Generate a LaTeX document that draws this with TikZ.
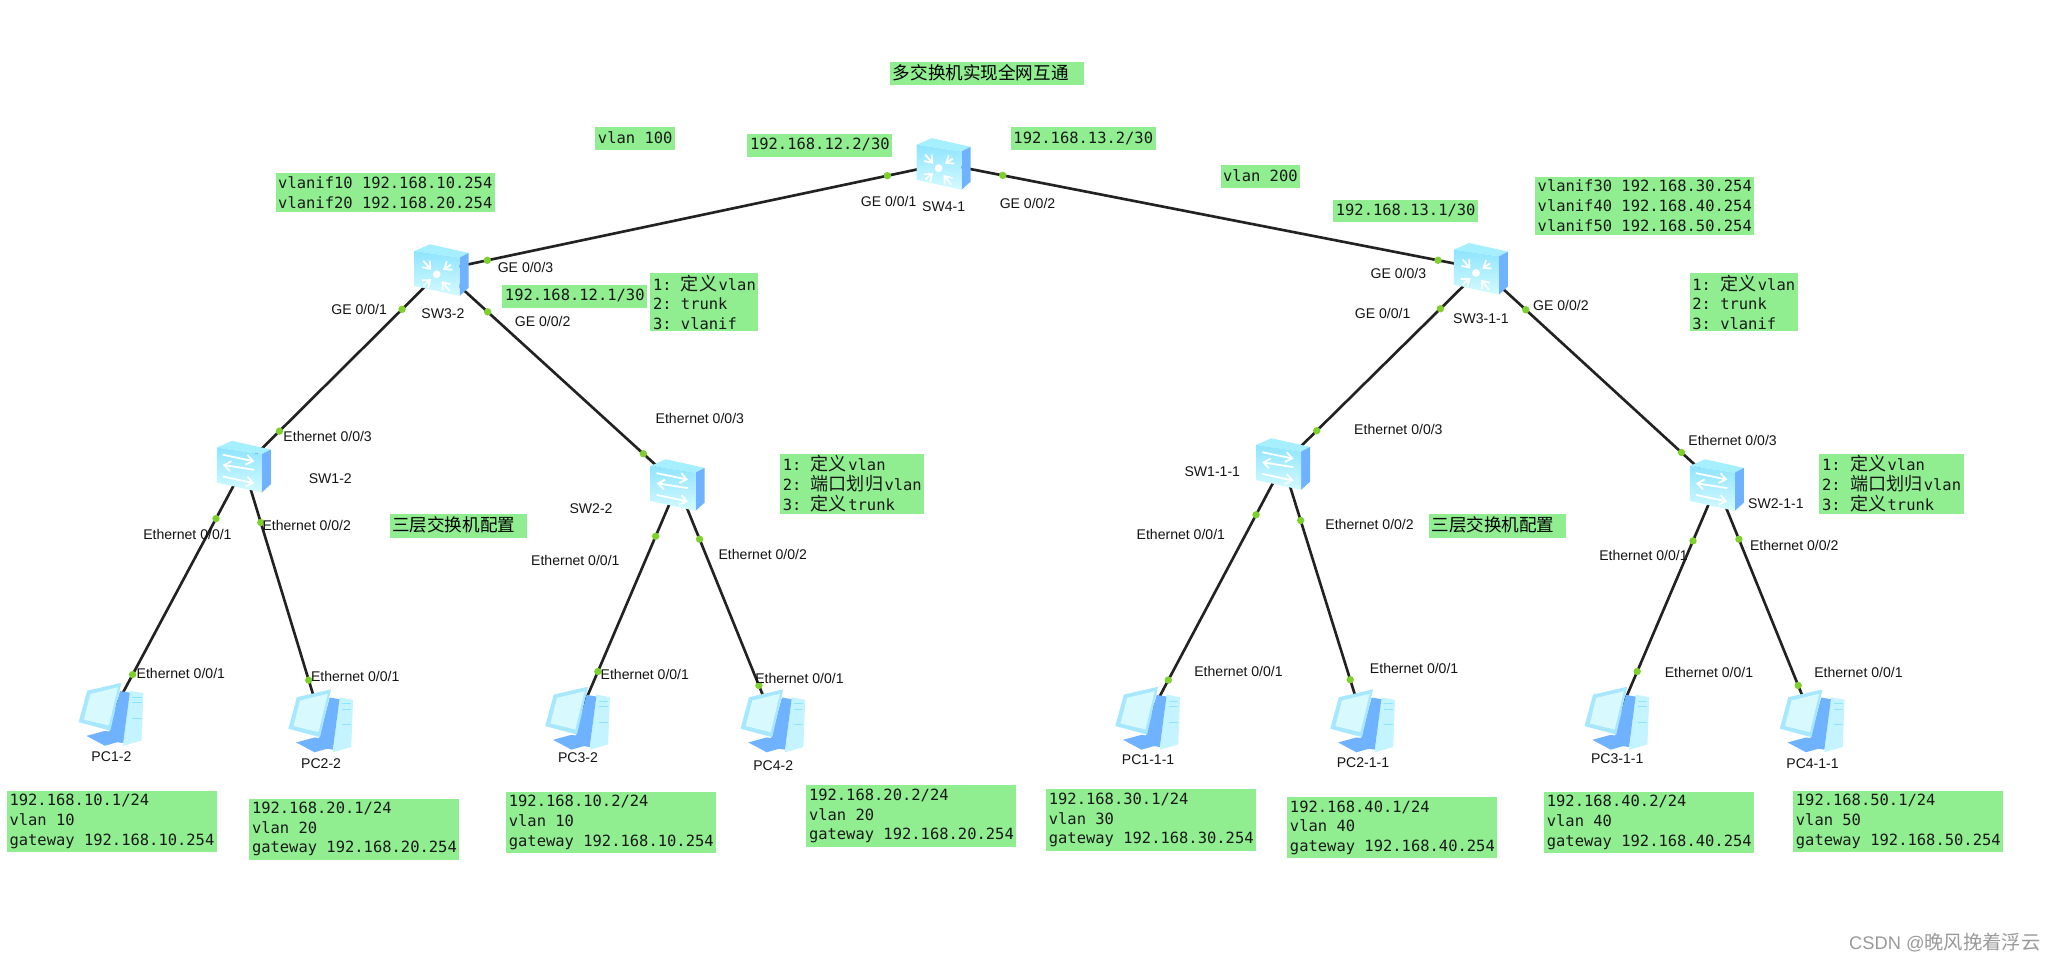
\documentclass[tikz,border=0pt]{standalone}
\usepackage{fontspec}
\setmainfont{Liberation Sans}
\setmonofont{DejaVu Sans Mono}
\newfontfamily\cjk{Noto Sans CJK SC}
\usetikzlibrary{arrows.meta}
\newcommand{\GEport}[1]{GE 0/0/#1}
\newcommand{\ETHport}[1]{Ethernet 0/0/#1}
\newcommand{\hanzi}[1]{{\cjk\fontsize{10.3}{11.2}\selectfont #1}\kern0.8pt}
\newcommand{\gwnote}[3]{#1/24\\vlan #2\\gateway 192.168.#2.254}
\definecolor{notegreen}{HTML}{90EE90}
\definecolor{portgreen}{HTML}{7FCF2F}
\definecolor{wirecol}{HTML}{222222}
\definecolor{devside}{HTML}{6FB2FF}
\definecolor{devtop}{HTML}{A6EFFF}
\definecolor{devhigh}{HTML}{8FE4FF}
\definecolor{devlow}{HTML}{D4FBFF}
\definecolor{pcframe}{HTML}{A8E8FF}
\definecolor{pcscreen}{HTML}{D8FAFF}
\definecolor{pctower}{HTML}{C4F4FF}
\definecolor{markgray}{HTML}{9A9A9A}

\begin{document}
\begin{tikzpicture}[
    x=0.2621mm, y=-0.2621mm,
    link/.style={draw=wirecol, line width=1.5pt},
    port/.style={circle, fill=portgreen, minimum size=4.2pt, inner sep=0pt},
    dev/.style={minimum size=8mm, inner sep=0pt},
    tag/.style={font=\fontsize{8}{10}\selectfont, text=black!92, inner sep=0pt},
    note/.style={anchor=north west, fill=notegreen, align=left, inner xsep=1.5pt, inner ysep=2pt,
      text=black!90, font=\ttfamily\fontsize{8.8}{11.2}\selectfont},
    oneline/.style={note, inner ysep=1pt, text height=8pt, text depth=3pt},
    steps/.style={note, inner ysep=1pt},
    bigtxt/.style={anchor=north west, fill=notegreen, inner xsep=1.5pt, inner ysep=1.5pt,
      text height=8.6pt, text depth=1.8pt, font=\cjk\fontsize{10}{12}\selectfont},
    glyph/.style={draw=white, line width=1pt, -{Straight Barb[length=1.3mm,width=2mm]}},
    swbody/.pic={
      \fill[devtop] (-20.6,-14.5) -- (-9,-19.6) -- (20.6,-13) -- (13.7,-9.4) -- cycle;
      \fill[devside] (13.7,-9.4) -- (20.6,-13) -- (20.6,13.5) -- (13.7,19.8) -- cycle;
      \shade[top color=devhigh, bottom color=devlow] (-20.6,-14.5) -- (13.7,-9.4) -- (13.7,19.8) -- (-20.6,12.2) -- cycle;
    },
    l3sw/.pic={
      \pic {swbody};
      \draw[glyph] (-14,-7) -- (-8,0);
      \draw[glyph] (7,-4) -- (1,0);
      \draw[glyph] (-14,12) -- (-8,7);
      \draw[glyph] (6,16) -- (0,8.5);
      \fill[white] (-3.8,3.3) circle (3);
    },
    l2sw/.pic={
      \pic {swbody};
      \draw[glyph] (-16,-9) -- (8,-4);
      \draw[glyph] (8,2.5) -- (-16,-1.3);
      \draw[glyph] (-16,7.6) -- (8,12.7);
    },
    pcbox/.pic={
      \fill[pctower] (14,-18) -- (24.4,-16) -- (23,20) -- (9,24) -- cycle;
      \fill[devside] (6.6,-17.8) -- (14,-16.5) -- (9,22) -- (-3.5,20) -- cycle;
      \fill[devside] (-19,16.5) -- (-5,12.7) -- (4,14) -- (9,20) -- (-5,24) -- cycle;
      \fill[pcframe] (-25,6) -- (-18.5,-18) -- (7.6,-24) -- (-0.8,12.5) -- cycle;
      \fill[pcscreen] (-21,4) -- (-16,-15.5) -- (5,-20.6) -- (-2,8.6) -- cycle;
      \foreach \ybar in {-13,-9,3} { \draw[devhigh, line width=0.5pt] (16,\ybar) -- (23,\ybar); }
    },
  ]

  \useasboundingbox[fill=white] (0,0) rectangle (1568,733.3);

  %% the devices: invisible boxes first, icons go on top of the links later
  \foreach \n/\x/\y in {SWfour/720/125, SWthreeA/337/206, SWthreeB/1130/205, SWoneA/186/356,
      SWtwoA/517/370, SWoneB/979/354, SWtwoB/1310/370} {
    \node[dev] (\n) at (\x,\y) {};
  }
  \foreach \n/\x/\y in {PConeA/85/545, PCtwoA/245/550, PCthreeA/441/548, PCfourA/590/550,
      PConeB/876/548, PCtwoB/1040/550, PCthreeB/1234/548, PCfourB/1383/550} {
    \node[dev] (\n) at (\x,\y) {};
  }

  %% links, with a port dot near each end
  \foreach \a/\b/\pa/\pb in {SWfour/SWthreeA/.112/.909, SWfour/SWthreeB/.11/.92,
      SWthreeA/SWoneA/.2/.82, SWthreeA/SWtwoA/.195/.855,
      SWthreeB/SWoneB/.205/.83, SWthreeB/SWtwoB/.19/.85,
      SWoneA/PConeA/.21/.84, SWoneA/PCtwoA/.22/.84,
      SWtwoA/PCthreeA/.22/.8, SWtwoA/PCfourA/.23/.85,
      SWoneB/PConeB/.2/.85, SWoneB/PCtwoB/.22/.84,
      SWtwoB/PCthreeB/.24/.8, SWtwoB/PCfourB/.23/.85} {
    \draw[link] (\a.center) -- node[port, pos=\pa] (\a\b s) {} node[port, pos=\pb] (\a\b e) {} (\b.center);
  }

  %% icons
  \foreach \n in {SWfour, SWthreeA, SWthreeB} { \pic at (\n) {l3sw}; }
  \foreach \n in {SWoneA, SWtwoA, SWoneB, SWtwoB} { \pic at (\n) {l2sw}; }
  \foreach \n in {PConeA, PCtwoA, PCthreeA, PCfourA, PConeB, PCtwoB, PCthreeB, PCfourB} { \pic at (\n) {pcbox}; }

  %% device names
  \foreach \x/\y/\t [count=\i] in {720/158/SW4-1, 338/239/SW3-2, 1130/243/SW3-1-1, 252/365/SW1-2,
      451/388/SW2-2, 925/360/SW1-1-1, 1355/384/SW2-1-1, 85/577/PC1-2, 245/583/PC2-2, 441/578/PC3-2,
      590/584/PC4-2, 876/580/PC1-1-1, 1040/582/PC2-1-1, 1234/579/PC3-1-1, 1383/583/PC4-1-1} {
    \node[tag] (name\i) at (\x,\y) {\t};
  }

  %% port names
  \foreach \x/\y/\t [count=\i] in {678/154/\GEport{1}, 784/155/\GEport{2}, 401/204/\GEport{3},
      274/236/\GEport{1}, 414/245/\GEport{2}, 1067/209/\GEport{3}, 1055/239/\GEport{1}, 1191/233/\GEport{2},
      250/333/\ETHport{3}, 143/408/\ETHport{1}, 234/401/\ETHport{2},
      534/319/\ETHport{3}, 439/428/\ETHport{1}, 582/423/\ETHport{2},
      1067/328/\ETHport{3}, 901/408/\ETHport{1}, 1045/400/\ETHport{2},
      1322/336/\ETHport{3}, 1254/424/\ETHport{1}, 1369/416/\ETHport{2},
      138/514/\ETHport{1}, 271/516/\ETHport{1}, 492/515/\ETHport{1}, 610/518/\ETHport{1},
      945/512/\ETHport{1}, 1079/510/\ETHport{1}, 1304/513/\ETHport{1}, 1418/513/\ETHport{1}} {
    \node[tag] (portname\i) at (\x,\y) {\t};
  }

  %% green notes
  \node[bigtxt] (title) at (679,47) {多交换机实现全网互通\hspace*{7pt}};
  \node[bigtxt] (layerA) at (297,392) {三层交换机配置\hspace*{5pt}};
  \node[bigtxt] (layerB) at (1090,392) {三层交换机配置\hspace*{5pt}};

  \node[oneline] (vlanA) at (454,97) {vlan 100};
  \node[oneline] (vlanB) at (931,126) {vlan 200};
  \node[oneline] (ipA) at (570,102) {192.168.12.2/30};
  \node[oneline] (ipB) at (771,97) {192.168.13.2/30};
  \node[oneline] (ipC) at (383,217) {192.168.12.1/30};
  \node[oneline] (ipD) at (1017,152) {192.168.13.1/30};
  \node[note] (ifA) at (210,132) {vlanif10 192.168.10.254\\vlanif20 192.168.20.254};
  \node[note] (ifB) at (1171,134.5) {vlanif30 192.168.30.254\\vlanif40 192.168.40.254\\vlanif50 192.168.50.254};

  \node[steps] (stepsA) at (496,208) {1: \hanzi{定义}vlan\\2: trunk\\3: vlanif\hspace*{7pt}};
  \node[steps] (stepsB) at (1289,208) {1: \hanzi{定义}vlan\\2: trunk\\3: vlanif\hspace*{7pt}};
  \node[steps] (stepsC) at (595,346) {1: \hanzi{定义}vlan\\2: \hanzi{端口划归}vlan\\3: \hanzi{定义}trunk};
  \node[steps] (stepsD) at (1388,346) {1: \hanzi{定义}vlan\\2: \hanzi{端口划归}vlan\\3: \hanzi{定义}trunk};

  \node[note] (hostA) at (5,603) {\gwnote{192.168.10.1}{10}{}};
  \node[note] (hostB) at (190,609) {\gwnote{192.168.20.1}{20}{}};
  \node[note] (hostC) at (386,604) {\gwnote{192.168.10.2}{10}{}};
  \node[note] (hostD) at (615,599) {\gwnote{192.168.20.2}{20}{}};
  \node[note] (hostE) at (798,602) {\gwnote{192.168.30.1}{30}{}};
  \node[note] (hostF) at (982,608) {\gwnote{192.168.40.1}{40}{}};
  \node[note] (hostG) at (1178,604) {\gwnote{192.168.40.2}{40}{}};
  \node[note] (hostH) at (1368,603) {\gwnote{192.168.50.1}{50}{}};

  %% corner mark
  \node[text=markgray, inner sep=0pt, font=\fontsize{10.4}{12}\selectfont] (mark) at (1484,719)
    {CSDN @{\cjk\fontsize{11}{12}\selectfont 晚风挽着浮云}};

\end{tikzpicture}
\end{document}
